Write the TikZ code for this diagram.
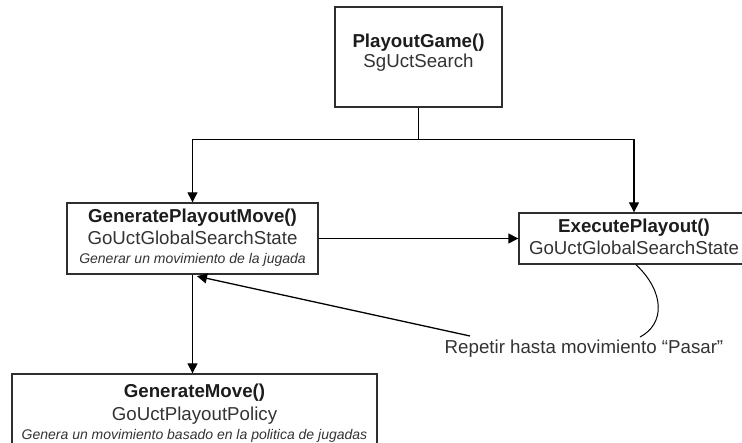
\documentclass[tikz,border=0pt]{standalone}
\usepackage{fontspec}
\setmainfont{Liberation Sans}
\usetikzlibrary{arrows.meta,calc}

\definecolor{boxline}{HTML}{2E2E2E}
\definecolor{ink}{HTML}{1C1C1C}
\definecolor{subink}{HTML}{333333}

\tikzset{
  classbox/.style={draw=boxline, line width=1.4pt, rectangle, inner sep=0pt},
  titleline/.style={anchor=base, inner sep=0pt, text=ink, font=\fontsize{18.7}{21}\selectfont\bfseries},
  classline/.style={anchor=base, inner sep=0pt, text=subink, font=\fontsize{18.7}{21}\selectfont},
  noteline/.style={anchor=base, inner sep=0pt, text=subink, font=\fontsize{14}{17}\selectfont\itshape},
  flow/.style={draw=black, line width=1.4pt, -{Triangle[length=10pt,width=10pt]}},
  plainflow/.style={draw=black, line width=1.4pt},
}

\begin{document}
\begin{tikzpicture}[x=1pt,y=-1pt]
  \useasboundingbox (0,0) rectangle (742,443);

  % class boxes
  \node[classbox, minimum width=167pt, minimum height=100pt] (top)  at (418.5,57)  {};
  \node[classbox, minimum width=251pt, minimum height=71pt]  (gpm)  at (192.5,238.5) {};
  \node[classbox, minimum width=230pt, minimum height=51pt]  (exec) at (634,238.5) {};
  \node[classbox, minimum width=365pt, minimum height=76pt]  (gm)   at (194.5,412) {};

  % box texts
  \node[titleline] (topA) at (418.5,48) {PlayoutGame()};
  \node[classline] (topB) at (418.5,68) {SgUctSearch};

  \node[titleline] (gpmA) at (192.5,223) {GeneratePlayoutMove()};
  \node[classline] (gpmB) at (192.5,245) {GoUctGlobalSearchState};
  \node[noteline]  (gpmC) at (192.5,264) {Generar un movimiento de la jugada};

  \node[titleline] (execA) at (634,233) {ExecutePlayout()};
  \node[classline] (execB) at (634,255) {GoUctGlobalSearchState};

  \node[titleline] (gmA) at (194.5,398) {GenerateMove()};
  \node[classline] (gmB) at (194.5,421) {GoUctPlayoutPolicy};
  \node[noteline]  (gmC) at (194.5,439.5) {Genera un movimiento basado en la politica de jugadas};

  % loop annotation
  \node[anchor=base, inner sep=0pt, text=subink, font=\fontsize{18.7}{21}\selectfont]
    (loop) at (584,354) {Repetir hasta movimiento “Pasar”};

  % call structure
  \coordinate (split) at ($(top.south)+(0,32)$);
  \draw[plainflow] (top.south) -- (split);
  \draw[flow] (split) -| (gpm.north);
  \draw[flow] (split) -| (exec.north);
  \draw[flow] (gpm.east) -- (exec.west);
  \draw[flow] (gpm.south) -- (gpm.south |- gm.north);

  % repetition back to the move generator
  \coordinate (loopStart) at (470,336);
  \coordinate (loopEnd) at ($(gpm.south)+(4.5,1.5)$);
  \draw[flow, line width=1.3pt] (loopStart) -- (loopEnd);

  % callout from the playout box to the annotation
  \coordinate (calloutEnd) at (640,337);
  \draw[black, line width=1pt] ($(exec.south)+(2,0)$) .. controls (665,292) and (665,324) .. (calloutEnd);
\end{tikzpicture}
\end{document}
